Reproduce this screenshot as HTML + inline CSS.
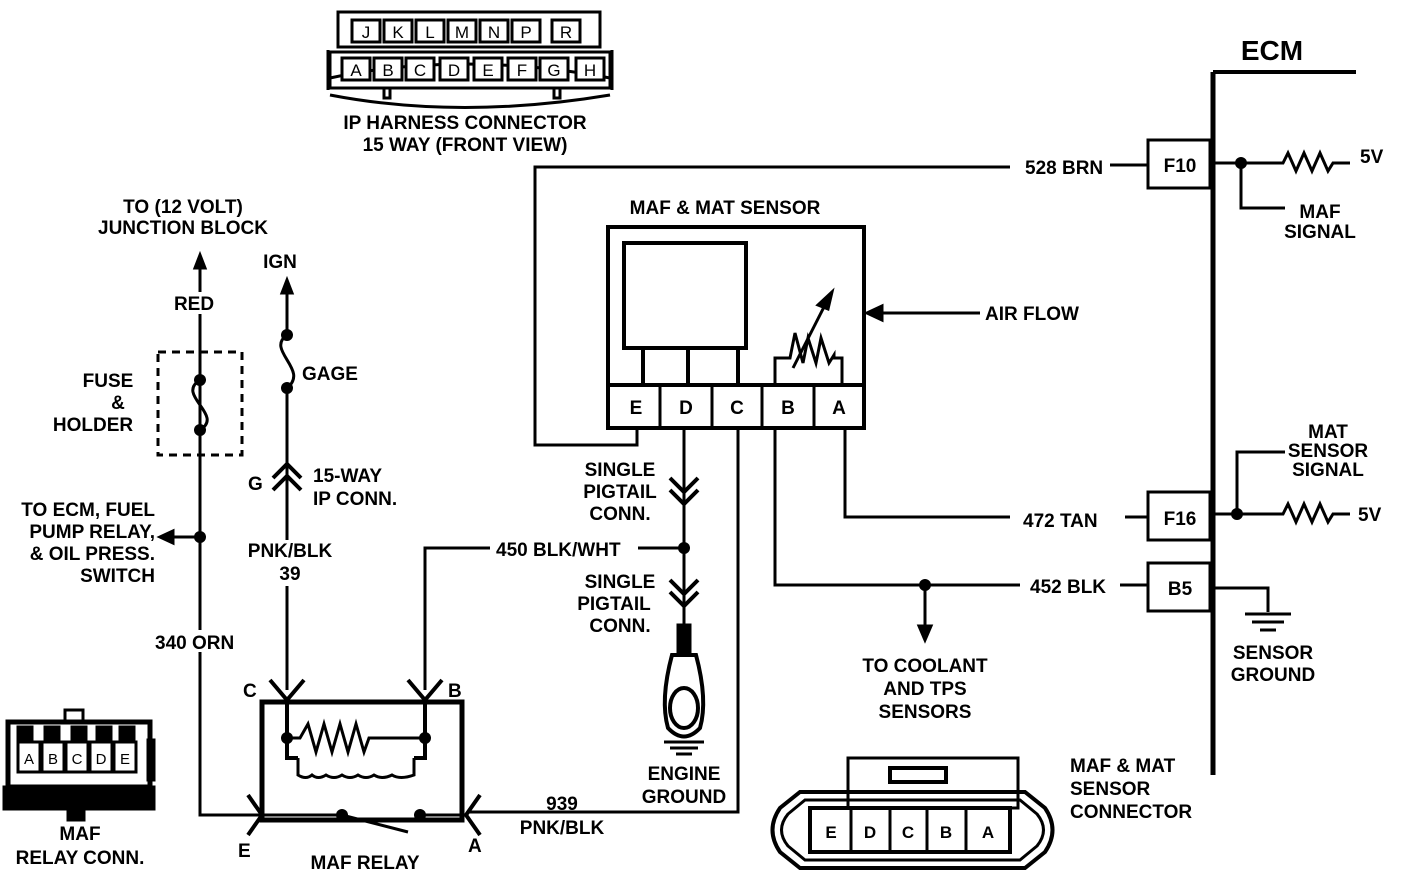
<!DOCTYPE html>
<html><head><style>
html,body{margin:0;padding:0;background:#fff}
svg{display:block}
text{font-family:"Liberation Sans",sans-serif;font-weight:bold;font-size:19px;fill:#000}
</style></head><body>
<svg width="1408" height="884" viewBox="0 0 1408 884" xmlns="http://www.w3.org/2000/svg">
<g fill="none" stroke="#000" stroke-width="3">
<path d="M330 78 Q460 50 610 78" /><path d="M330 95 Q460 120 610 95"/>
<rect x="338" y="12" width="262" height="35" stroke-width="3"/>
<rect x="330" y="52" width="280" height="36"/>
<path d="M328 50 V90 M612 50 V90"/>
<rect x="384" y="88" width="6" height="10"/><rect x="554" y="88" width="6" height="10"/>
<path d="M1213 72 V775" stroke-width="5"/>
<path d="M1213 72 H1356" stroke-width="4"/>
<rect x="1148" y="140" width="62" height="48"/>
<path d="M1110 165 H1148"/>
<path d="M1213 163 H1283 l5 -10 l8 18 l8 -18 l8 18 l8 -18 l8 18 l5 -8 H1350"/>
<path d="M1241 163 V208 H1285"/>
<path d="M1010 167 H535 V445 H637 V428"/>
<rect x="608" y="227" width="256" height="158" stroke-width="4"/>
<rect x="624" y="243" width="122" height="105" stroke-width="4"/>
<path d="M643 348 V385 M688 348 V385 M738 348 V385" stroke-width="4"/>
<rect x="608" y="385" width="256" height="43" stroke-width="4"/>
<path d="M660 385 V428 M712 385 V428 M762 385 V428 M814 385 V428" stroke-width="3"/>
<path d="M775 385 V358 H790 l5 -25 l8 30 l5 -25 l8 25 l5 -25 l8 25 l5 -8 V358 H842 V385" stroke-width="3"/>
<path d="M793 368 L825 305" stroke-width="3"/>
<path d="M832 292 L818 305 L828 309 Z" fill="#000"/>
<path d="M980 313 H872"/><path d="M867 313 L882 306 L882 320 Z" fill="#000"/>
<path d="M684 428 V625"/>
<path d="M670 478 l14 14 l14 -14 M670 490 l14 14 l14 -14 M670 580 l14 14 l14 -14 M670 592 l14 14 l14 -14" stroke-width="4"/>
<path d="M638 548 H684"/>
<path d="M490 548 H425 V690"/>
<rect x="678" y="625" width="12" height="30" fill="#000"/>
<path d="M672 655 Q660 700 668 728 Q684 745 700 728 Q708 700 696 655 Z" stroke-width="4"/>
<ellipse cx="684" cy="708" rx="14" ry="20" stroke-width="4"/>
<path d="M664 742 H704 M670 748 H698 M676 754 H692"/>
<path d="M738 428 V812 H468"/>
<path d="M775 428 V585 H1020"/>
<path d="M1120 585 H1148"/>
<path d="M925 585 V630"/><path d="M925 640 L919 626 L931 626 Z" fill="#000"/>
<rect x="1148" y="563" width="62" height="48"/>
<path d="M1213 588 H1268 V612 M1245 614 H1291 M1252 622 H1284 M1260 630 H1276"/>
<path d="M845 428 V517 H1010"/>
<path d="M1125 517 H1148"/>
<rect x="1148" y="492" width="62" height="48"/>
<path d="M1213 514 H1283 l5 -10 l8 18 l8 -18 l8 18 l8 -18 l8 18 l5 -8 H1350"/>
<path d="M1237 514 V452 H1285"/>
<rect x="158" y="352" width="84" height="103" stroke-dasharray="8,6"/>
<path d="M200 265 V815 H262"/>
<path d="M200 255 L195 268 L205 268 Z" fill="#000"/>
<path d="M200 380 C175 395 225 415 200 430"/>
<path d="M200 537 H168"/><path d="M160 537 L173 531 L173 543 Z" fill="#000"/>
<path d="M287 290 V330 M287 388 V690"/>
<path d="M287 280 L282 293 L292 293 Z" fill="#000"/>
<path d="M287 335 C265 350 310 370 287 388"/>
<path d="M273 478 l14 -14 l14 14 M273 490 l14 -14 l14 14" stroke-width="4"/>
<rect x="262" y="702" width="200" height="118" stroke-width="5"/>
<path d="M270 680 L287 700 L304 680 M408 680 L425 700 L442 680" stroke-width="4"/>
<path d="M248 795 L262 815 L248 835 M480 795 L466 815 L480 835" stroke-width="4"/>
<path d="M287 700 V758 H298 M425 700 V758 H414" stroke-width="4"/>
<path d="M287 738 H300 l8 -14 l8 28 l8 -28 l8 28 l8 -28 l8 28 l8 -28 l8 28 l5 -14 H425" stroke-width="3"/>
<path d="M298 758 V775 Q306 780 312 775 Q318 780 326 775 Q334 780 342 775 Q350 780 358 775 Q366 780 374 775 Q382 780 392 775 Q400 780 414 775 V758" stroke-width="3"/>
<path d="M262 815 H342 L408 832 M422 815 H466" stroke-width="3"/>
<rect x="8" y="722" width="142" height="65" stroke-width="5"/>
<rect x="65" y="710" width="18" height="12" stroke-width="3"/>
<rect x="4" y="787" width="150" height="22" fill="#000"/>
<rect x="68" y="808" width="16" height="12" fill="#000"/>
<rect x="148" y="740" width="6" height="40" stroke-width="3"/>
<rect x="848" y="758" width="170" height="50" stroke-width="3"/>
<rect x="890" y="768" width="56" height="14" stroke-width="4"/>
<path d="M800 792 H1025 L1045 808 Q1060 830 1045 852 L1025 868 H800 L780 852 Q765 830 780 808 Z" stroke-width="4"/>
<path d="M805 800 H1020 L1037 814 Q1050 830 1037 846 L1020 860 H805 L788 846 Q775 830 788 814 Z" stroke-width="3"/>
<rect x="810" y="808" width="200" height="44" stroke-width="4" fill="#fff"/>
<path d="M851 808 V852 M890 808 V852 M927 808 V852 M966 808 V852" stroke-width="3"/>
</g>
<g fill="#fff">
<rect x="172" y="292" width="46" height="22"/>
<rect x="152" y="630" width="86" height="22"/>
<rect x="245" y="540" width="90" height="46"/>
</g>
<g>
<circle cx="1241" cy="163" r="6"/><circle cx="1237" cy="514" r="6"/>
<circle cx="684" cy="548" r="6"/><circle cx="925" cy="585" r="6"/>
<circle cx="200" cy="380" r="6"/><circle cx="200" cy="430" r="6"/><circle cx="200" cy="537" r="6"/>
<circle cx="287" cy="335" r="6"/><circle cx="287" cy="388" r="6"/>
<circle cx="287" cy="738" r="6"/><circle cx="425" cy="738" r="6"/>
<circle cx="342" cy="815" r="6"/><circle cx="420" cy="815" r="6"/>
</g>
<g stroke="#000" stroke-width="3" fill="#fff">
<rect x="352" y="20" width="28" height="22"/><rect x="384" y="20" width="28" height="22"/><rect x="416" y="20" width="28" height="22"/><rect x="448" y="20" width="28" height="22"/><rect x="480" y="20" width="28" height="22"/><rect x="512" y="20" width="28" height="22"/><rect x="552" y="20" width="28" height="22"/>
<rect x="342" y="58" width="28" height="22"/><rect x="374" y="58" width="28" height="22"/><rect x="406" y="58" width="28" height="22"/><rect x="440" y="58" width="28" height="22"/><rect x="474" y="58" width="28" height="22"/><rect x="508" y="58" width="28" height="22"/><rect x="540" y="58" width="28" height="22"/><rect x="576" y="58" width="28" height="22"/>
<rect x="18" y="742" width="22" height="30"/><rect x="42" y="742" width="22" height="30"/><rect x="66" y="742" width="22" height="30"/><rect x="90" y="742" width="22" height="30"/><rect x="114" y="742" width="22" height="30"/>
<rect x="18" y="727" width="14" height="12" fill="#000"/><rect x="45" y="727" width="14" height="12" fill="#000"/><rect x="72" y="727" width="14" height="12" fill="#000"/><rect x="97" y="727" width="14" height="12" fill="#000"/><rect x="120" y="727" width="14" height="12" fill="#000"/>
</g>
<g text-anchor="middle">
<text x="366" y="38" style="font-size:17px;font-weight:normal">J</text><text x="398" y="38" style="font-size:17px;font-weight:normal">K</text><text x="430" y="38" style="font-size:17px;font-weight:normal">L</text><text x="462" y="38" style="font-size:17px;font-weight:normal">M</text><text x="494" y="38" style="font-size:17px;font-weight:normal">N</text><text x="526" y="38" style="font-size:17px;font-weight:normal">P</text><text x="566" y="38" style="font-size:17px;font-weight:normal">R</text>
<text x="356" y="76" style="font-size:17px;font-weight:normal">A</text><text x="388" y="76" style="font-size:17px;font-weight:normal">B</text><text x="420" y="76" style="font-size:17px;font-weight:normal">C</text><text x="454" y="76" style="font-size:17px;font-weight:normal">D</text><text x="488" y="76" style="font-size:17px;font-weight:normal">E</text><text x="522" y="76" style="font-size:17px;font-weight:normal">F</text><text x="554" y="76" style="font-size:17px;font-weight:normal">G</text><text x="590" y="76" style="font-size:17px;font-weight:normal">H</text>
<text x="29" y="764" style="font-size:15px;font-weight:normal">A</text><text x="53" y="764" style="font-size:15px;font-weight:normal">B</text><text x="77" y="764" style="font-size:15px;font-weight:normal">C</text><text x="101" y="764" style="font-size:15px;font-weight:normal">D</text><text x="125" y="764" style="font-size:15px;font-weight:normal">E</text>
</g>
<g text-anchor="middle">
<text x="465" y="129">IP HARNESS CONNECTOR</text>
<text x="465" y="151">15 WAY (FRONT VIEW)</text>
<text x="1272" y="60" style="font-size:28px">ECM</text>
<text x="1180" y="172">F10</text><text x="1180" y="525">F16</text><text x="1180" y="595">B5</text>
<text x="725" y="214">MAF &amp; MAT SENSOR</text>
<text x="636" y="414">E</text><text x="686" y="414">D</text><text x="737" y="414">C</text><text x="788" y="414">B</text><text x="839" y="414">A</text>
<text x="183" y="213">TO  (12 VOLT)</text><text x="183" y="234">JUNCTION BLOCK</text>
<text x="194" y="310">RED</text><text x="280" y="268">IGN</text>
<text x="108" y="387">FUSE</text><text x="118" y="409">&amp;</text><text x="93" y="431">HOLDER</text>
<text x="1320" y="218">MAF</text><text x="1320" y="238">SIGNAL</text>
<text x="1328" y="438">MAT</text><text x="1328" y="457">SENSOR</text><text x="1328" y="476">SIGNAL</text>
<text x="1273" y="659">SENSOR</text><text x="1273" y="681">GROUND</text>
<text x="925" y="672">TO COOLANT</text><text x="925" y="695">AND TPS</text><text x="925" y="718">SENSORS</text>
<text x="620" y="476">SINGLE</text><text x="620" y="498">PIGTAIL</text><text x="620" y="520">CONN.</text>
<text x="620" y="588">SINGLE</text><text x="614" y="610">PIGTAIL</text><text x="620" y="632">CONN.</text>
<text x="684" y="780">ENGINE</text><text x="684" y="803">GROUND</text>
<text x="290" y="557">PNK/BLK</text><text x="290" y="580">39</text>
<text x="80" y="840">MAF</text><text x="80" y="864">RELAY CONN.</text>
<text x="365" y="869">MAF RELAY</text>
<text x="562" y="810">939</text><text x="562" y="834">PNK/BLK</text>
<text x="831" y="838" style="font-size:17px">E</text><text x="870" y="838" style="font-size:17px">D</text><text x="908" y="838" style="font-size:17px">C</text><text x="946" y="838" style="font-size:17px">B</text><text x="988" y="838" style="font-size:17px">A</text>
</g>
<g text-anchor="end">
<text x="155" y="516">TO ECM, FUEL</text><text x="155" y="538">PUMP RELAY,</text><text x="155" y="560">&amp; OIL PRESS.</text><text x="155" y="582">SWITCH</text>
</g>
<g>
<text x="1025" y="174">528 BRN</text>
<text x="985" y="320">AIR FLOW</text>
<text x="1360" y="163">5V</text><text x="1358" y="521">5V</text>
<text x="1023" y="527">472 TAN</text>
<text x="1030" y="593">452 BLK</text>
<text x="496" y="556">450 BLK/WHT</text>
<text x="302" y="380">GAGE</text>
<text x="313" y="482">15-WAY</text><text x="313" y="505">IP CONN.</text>
<text x="248" y="490">G</text>
<text x="155" y="649">340 ORN</text>
<text x="243" y="697">C</text><text x="448" y="697">B</text><text x="238" y="857">E</text><text x="468" y="852">A</text>
<text x="1070" y="772">MAF &amp; MAT</text><text x="1070" y="795">SENSOR</text><text x="1070" y="818">CONNECTOR</text>
</g>
</svg>
</body></html>
